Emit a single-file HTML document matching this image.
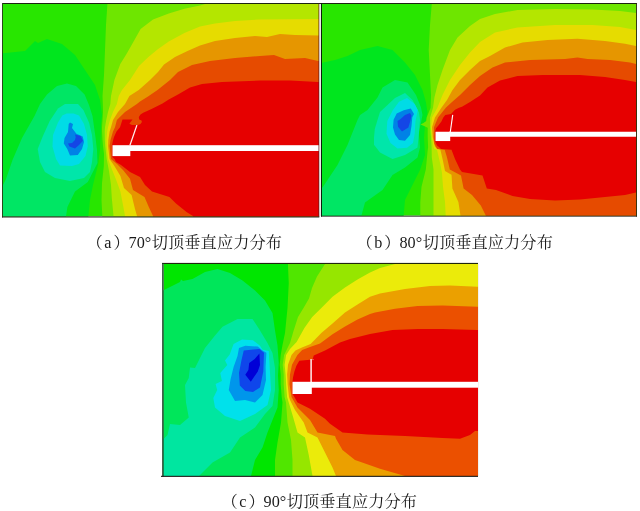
<!DOCTYPE html>
<html lang="zh"><head><meta charset="utf-8"><title>切顶垂直应力分布</title>
<style>
html,body{margin:0;padding:0;background:#fff;}
body{width:640px;height:511px;position:relative;overflow:hidden;font-family:"Liberation Serif","Noto Serif CJK SC",serif;}
.cap{position:absolute;white-space:nowrap;font-size:16.2px;line-height:20px;color:#1a1a1a;}
.cap span{display:inline-block;}
.cap .lt{margin-left:1.5px;transform:translateY(0.5px) scaleY(1.08);transform-origin:0 76%;}
.cap .p2{margin-left:2px;}
.cap .nm{margin-left:-1px;transform:translateY(0.5px) scaleY(1.08);transform-origin:0 76%;}
.cap .zh{margin-left:0.5px;letter-spacing:0.1px;}
</style></head><body>
<svg width="640" height="511" viewBox="0 0 640 511" style="position:absolute;left:0;top:0">
<defs>
<clipPath id="clipA"><rect x="3" y="4" width="316" height="212.5"/></clipPath>
<clipPath id="clipB"><rect x="322" y="4" width="314.4" height="211.8"/></clipPath>
<clipPath id="clipC"><rect x="163.4" y="264" width="314.6" height="212"/></clipPath>
</defs>
<g clip-path="url(#clipA)" shape-rendering="geometricPrecision">
<rect x="3" y="4" width="316" height="212.5" fill="#28e600"/>
<polygon points="-5,54 25,51 35,41 38,43 47,39 62,44 75,55 85,70 95,85 100,100 102,115 101,125 100,150 98,165 93,185 90,200 87,230 -5,230" fill="#00e61e"/>
<polygon points="67,83.5 76,86 84.6,94.5 89,105 92.5,116 95.6,138 97,150 97.5,163 87.8,182 75,191.6 67.4,207 64,230 -5,230 -5,187 3,185 6,179 12.5,160 22,138 34.5,116 40,104 47,94.5 57,86" fill="#00e664"/>
<polygon points="65,104 78,104 83.4,110 89,122.5 92,135 93.3,149 92,162 90,172 84,178 70,181 55,178 45,172 40,162 37.7,149 42.7,136.6 49.7,121 58,108.4" fill="#00e6aa"/>
<polygon points="66.6,113.4 73.6,113.4 79,115.5 84,124 87,135 87.7,146.4 85.5,156 79,164 72,166 60,165.4 56,159 52.5,146.4 53,135 58,122.5 62.3,115.5" fill="#00dce6"/>
<polygon points="70,122.5 73,124 72,128 76.4,133.8 82.7,136.6 84,142 82,149 77.8,155 70,155.6 67.3,149 63.8,143.6 64.5,138 68,132 68.7,124" fill="#0082e6"/>
<polygon points="75,134.5 80.6,136 83,140.8 79,145 75,148.5 69.4,146.4 68,143.6 72,143 75,140 75.7,137" fill="#1446e6"/>
<polygon points="108,-5 106,25 105,50 104,75 102.5,96 102.8,104 103,112 102.5,120 102,127 102,131.6 102.5,140 103,146 104,154 103.8,166 102,183 101.5,200 102.3,216 102.3,230 330,230 330,-5" fill="#6ee600"/>
<polygon points="205,-5 205,4 200,5.5 184.4,8.7 168.75,13.4 153,19.6 140.6,29 133.6,41.5 126.5,54 120.3,64 114.4,80 111,96 110.3,104 108,112 106.25,120 105,127.25 104.7,131.6 104.8,140 105.2,146 106.7,159 109,171 111,185 111.8,198 113.5,216 113.5,230 330,230 330,-5" fill="#b4e600"/>
<polygon points="330,19 318,19 260,19.5 235,21 215,23.5 200,26.6 184.4,33 168.75,41.5 157.8,49.3 148.4,57 139,66 130,80 122,90 118.75,96 116.9,104 113,112 110,120 108,127.25 107.2,131.6 106.5,140 106.7,146 108.1,159 111.8,169 116,179.5 120.4,191.6 123,205 125,216 125,230 330,230" fill="#e6dc00"/>
<polygon points="330,35.5 318,35.5 295,35 280,34 267,37 255,36 235,38 215,41 200,45.4 187.5,50.9 175,57 164,64.5 158,72 150,80 138.75,90 129.4,96 125,104 118,112 113,120 111,127.25 109.6,131.6 108.3,140 108.1,146 109.6,159 114.4,166 120.4,176 124,188 131.6,195 135,209 137,216 137,230 330,230" fill="#e69600"/>
<polygon points="330,61 318,61 305,58 285,59 274,55 260,56 235,58 210,61 192,65 178,72 170,80 157.5,90 148,96.5 140,101.5 136.9,104 125,112 116.9,120 115,127.25 113,131.6 110.5,140 109.6,146 111,159 117,164 123,170 130,178.7 133,190 144.5,197 148.8,207 153,216 153,230 330,230" fill="#e64b00"/>
<polygon points="330,82 318,82 290,80.5 260,80.5 222,82 202,84 190,87.5 178,94.5 168.75,99.6 162.5,103.5 151.5,109 146,111.5 143.2,112.8 140.5,114.5 138.8,117 139.2,119.6 141.5,120.5 141.9,122 140.5,124 138,125 132,125 129.4,123.8 131,121.5 132.5,119.4 122.5,119.4 120,127.25 116.5,131.6 114,137 113,140.4 112,145.3 112.3,157 114.5,159 116,162 121,165 130,172 140,177 145,185 152,191.5 169.4,197 176,203.6 186.5,212 193,216 195,230 330,230" fill="#e60000"/>
<rect x="112.5" y="145.2" width="17.8" height="10.9" fill="#fff"/>
<rect x="130" y="145.2" width="200" height="5.8" fill="#fff"/>
<line x1="129.9" y1="145.4" x2="136.9" y2="125.1" stroke="#fff0f0" stroke-width="1.3"/>
</g>
<rect x="319.3" y="4" width="1.7" height="212" fill="#ecece8"/><rect x="2" y="3" width="320" height="1" fill="#1c2410"/><rect x="2" y="3" width="1" height="214.4" fill="#2a4a1a"/><rect x="2" y="216.4" width="317.3" height="1.1" fill="#26261c"/><rect x="318.4" y="3.5" width="0.9" height="213.5" fill="#5a1a1a" fill-opacity="0.75"/>
<g clip-path="url(#clipB)" shape-rendering="geometricPrecision">
<rect x="322" y="4" width="314.4" height="211.8" fill="#28e600"/>
<polygon points="310,65.5 335,60 347.5,56 360,50 377.5,46 392.5,50 405,62.5 415,75 422.5,90 426,102.5 427.5,112.5 425,125 424,137.5 425,155 420,170 412.5,185 405,200 402.5,230 310,230" fill="#00e61e"/>
<polygon points="395,80 407.5,82.5 416,95 421,107.5 422.5,115 421,122.5 418.75,132.5 420,147.5 417.5,157.5 405,167.5 392.5,175 382.5,190 365,202.5 357.5,230 310,230 310,189 322.5,187.5 327.5,180 337.5,165 347.5,145 357.5,120 360,115 367.5,110 377.5,97.5 382.5,87.5" fill="#00e664"/>
<polygon points="405,93 412.5,100 419,112.5 420,120 419,132.5 417.5,147.5 405,155 392.5,159 380,152.5 374,144.7 374,137.5 374.8,129 377.5,120 380,112 387.5,105 395,98" fill="#00e6aa"/>
<polygon points="407,98 414.7,104 417.8,110 415.5,121 414.7,133.75 413,143 407,147.8 397.5,148.6 390.5,143 386.5,133.75 387.3,121 392.8,110.3 399,101.7" fill="#00dce6"/>
<polygon points="410.8,108.4 414,114 412.3,117.3 411.5,126 410,135 405,140.8 399,140 395,134.5 393,127.5 393.6,119.7 396.7,113.4 403.7,110.3" fill="#0082e6"/>
<polygon points="410,113 411.5,115.8 410.3,121 408.4,127.5 402,131.4 398,126.7 397.5,121 400.6,119 405,115" fill="#1446e6"/>
<polygon points="432.5,-5 430,25 428.7,50 430,75 431,95 430.6,107.8 426.7,117.6 426.3,121 423.5,123 420.5,124.6 424,126 427.7,127.8 427.7,137.1 428.1,146.9 427.5,152 425.8,169.5 421.5,186.7 420.3,202 420.3,230 650,230 650,-5" fill="#6ee600"/>
<polygon points="650,13 636,13 620,11 592.5,9.5 555,9 517.5,10 495,14 480,19 470,26 457.5,37.5 450,50 442.5,70 437.5,85 434.5,97 433,107.8 430.1,117.6 430.1,127.35 431,137.1 431.6,146.9 431.8,157.5 433.5,169.5 433.5,198.75 433.5,230 650,230" fill="#b4e600"/>
<polygon points="650,30 636,30 620,27 592.5,25 555,25 517.5,27.5 495,32.5 480,42 470,52.5 460,65 450,80 442.5,95 437.4,107.8 432,117.6 431,127.35 432,137.1 433.5,146.9 434.4,149 437,149.8 440.4,164.4 442,173 443,186.7 445,202 446.4,230 650,230" fill="#e6dc00"/>
<polygon points="650,46 636,46 625,43.75 605,41 577.5,38.75 547.5,40 522.5,42.5 505,47.5 490,56 480,61 470,70 460,80 452.5,90 447,100 441.4,107.8 435,117.6 432,127.35 432.7,137.1 434.5,145 435.2,147 440.4,149.8 443,161 445,171 451.5,174.7 452.4,188.4 458.4,202 462.7,230 650,230" fill="#e69600"/>
<polygon points="650,64 636,64 630,62.5 610,60 587.5,59 577.5,57.5 565,59 530,60 505,62.5 492.5,67.5 480,76 470,85 460,95 452,102 445.8,107.8 438,117.6 434,127.35 433.7,137.1 434.4,143.75 437,149 444.7,149.8 447,157.5 449.8,169.5 461,175.5 463.6,188.4 472,195 480.8,205.6 486,216 487,230 650,230" fill="#e64b00"/>
<polygon points="650,82 636,82 625,80 605,77 580,75 542.5,75 517.5,76 500,80.5 487.5,87.5 480,95.5 470,102 462,106.8 459,107.8 455,109.7 451,114 445.3,115.1 443.3,117.6 441.4,121.5 438.4,125.4 436,128.3 435,131.75 435,141 437,145.5 438.9,146.9 441,149 451.5,149.8 455,159 460,169.5 462,172 482.5,175.5 486.8,188.4 496,190 512.5,196 530,199 555,200.5 580,199.5 605,197 625,195 636,192.5 650,192" fill="#e60000"/>
<rect x="435.5" y="131.75" width="14.7" height="9.3" fill="#fff"/>
<rect x="449" y="131.75" width="200" height="5" fill="#fff"/>
<line x1="450.3" y1="132" x2="452.7" y2="114.8" stroke="#fff" stroke-width="1.1"/>
</g>
<rect x="321" y="3" width="316" height="1" fill="#1c2410"/><rect x="321" y="3" width="1" height="213.6" fill="#0a200a"/><rect x="321" y="215.7" width="316" height="0.9" fill="#1a1a14"/><rect x="636" y="3" width="0.9" height="213.6" fill="#2a2a10"/>
<g clip-path="url(#clipC)" shape-rendering="geometricPrecision">
<rect x="163.4" y="264" width="314.6" height="212" fill="#00e600"/>
<polygon points="150,290.5 163,290.5 168,288 180,282 181,279.5 183,281 192.5,279 205,272 217.5,269 230,273 242.5,280.5 255,290.5 265,300.5 272.5,313 275,330.5 277.5,345.5 278.75,363 278,375.5 278.75,390 277.5,407.5 272.5,420 267.5,432.5 262.5,447.5 255,460 251,476 251,490 150,490" fill="#00e65a"/>
<polygon points="237.5,319 252.5,319 260,330.5 267.5,343 272.5,353 275,368 275,390 272.5,406 265,414 255,427.5 240,437.5 230,452.5 212.5,462.5 199,476 199,490 150,490 150,439 163.75,438.75 167.5,435 170,424 180,425 188.75,417.5 186,402.5 185,385 188.75,378 190,367.5 195,368 200,358 205,348 215,335.5 222.5,326.75" fill="#00e6a0"/>
<polygon points="242,339.5 253,340.3 260,345.8 262.5,349.7 268.75,351 270,372.5 271,390 267.5,405 255,414 240,421 225,416 215,407.5 213.3,398 217.2,390 215.6,384 221.9,381 220.3,373 227.3,365 225,360.6 229.7,354.4 233.6,344" fill="#00e1eb"/>
<polygon points="239,348 245.3,345.8 257.8,346.5 262.5,350.5 266.4,352.8 265.6,367 266,380 262.5,395 255,402.5 245,400 235,401 228.75,390 229,388.75 230.5,379.4 233.6,367 237.5,356" fill="#0096eb"/>
<polygon points="243.75,350.5 259.4,349 264,352.8 263.3,371.5 261,382.5 260,387.5 253,392 245.3,391 239.8,385.6 239,373 241.4,360.6" fill="#0f46eb"/>
<polygon points="259.4,353.6 260,365 257.8,371.5 250.8,381.7 245.3,374.7 248.4,370 249.2,363 254.7,359" fill="#0000d7"/>
<polygon points="287.5,255 288.75,283 287.5,308 285,333 282.5,345 280.7,355 279.7,364.7 280.7,374.5 280.7,384.2 281.7,397 282.5,402.5 281,422.5 277.5,442.5 275,460 275,476 275,490 490,490 490,255" fill="#50e600"/>
<polygon points="325,255 325,264 317,276.5 312,288 309,298.4 303.5,308 298,317 293.5,331 290,343 288.75,345.5 284.1,355 282.7,364.7 283.7,374.5 283.7,384.2 284.6,397 286,402.5 287.5,422.5 291,440 292.5,460 292.5,476 292.5,490 490,490 490,255" fill="#96e600"/>
<polygon points="395,255 395,264 380,268 370,272.6 357.5,279.6 345,287.4 332.5,296.8 321.6,307.75 312.2,317 304.4,328 296.6,342 290,349 286.1,355 284.6,364.7 285.6,374.5 286.1,384.2 287.1,397 288.75,402.5 292.5,415 297.5,432.5 305,437.5 308.75,455 312.5,476 312.5,490 490,490 490,255" fill="#ebeb0a"/>
<polygon points="490,286.75 477.5,286.75 450,285.5 430,286 405,289 380,293.5 370,296.8 357.5,304.6 345,312.4 332.5,323.4 321.6,332.75 310.6,344 302,347.5 295.4,350.5 291.5,355 288,364.7 287.1,374.5 287.6,384.2 289,397 290,400 295,410 303.75,422.5 307.5,432.5 317.5,437.5 325,452.5 332.5,467.5 336,476 336,490 490,490" fill="#eba000"/>
<polygon points="490,306.75 477.5,306.75 442.5,305.5 417.5,306 395,308.75 375,312.5 370,314 357.5,319.5 345,326.5 332.5,334.3 320,343.5 310,347 302.2,350 297.4,355 292,364.7 290,374.5 289.5,384.2 291.5,397 297.5,407.5 310,420 317.5,432.5 335,436 336,438.75 342.5,450 355,460 380,468.75 405,476 407.5,476 407.5,490 490,490" fill="#eb5000"/>
<polygon points="490,330 477.5,330 442.5,329 417.5,329 392.5,330 370,334 350,339 340,342.5 325,350.5 313.75,355.5 312.5,359.5 299.3,360.8 296.4,365.7 294.4,371.5 293,377.4 292.5,381.8 292.5,394 294.4,397 297.5,402.5 310,408.75 325,418.75 330,423.75 342.5,432.5 367.5,434.5 405,436 442.5,438 460,438.75 470,435 475,431 490,431" fill="#e60000"/>
<rect x="292.5" y="381.8" width="19.3" height="12.2" fill="#fff"/>
<rect x="311" y="381.8" width="200" height="5.9" fill="#fff"/>
<line x1="311.1" y1="382.5" x2="311.1" y2="359.3" stroke="#fff" stroke-width="1.4"/>
<line x1="310" y1="359.6" x2="314" y2="359.6" stroke="#fff" stroke-width="0.5" stroke-opacity="0.6"/>
</g>
<rect x="162" y="262.9" width="316" height="1.1" fill="#20260c"/><rect x="162.2" y="263" width="1.4" height="213.5" fill="#1a3a22"/><rect x="161" y="475.8" width="317" height="1.1" fill="#1a1a14"/><rect x="478" y="264" width="0.5" height="212" fill="#e4e4dc"/>
</svg>
<div class="cap" style="left:86.5px;top:233px"><span class="p1">（</span><span class="lt">a</span><span class="p2">）</span><span class="nm">70°</span><span class="zh">切顶垂直应力分布</span></div>
<div class="cap" style="left:356.5px;top:233px"><span class="p1">（</span><span class="lt">b</span><span class="p2">）</span><span class="nm">80°</span><span class="zh">切顶垂直应力分布</span></div>
<div class="cap" style="left:221.5px;top:491.7px"><span class="p1">（</span><span class="lt">c</span><span class="p2">）</span><span class="nm">90°</span><span class="zh">切顶垂直应力分布</span></div>

</body></html>
